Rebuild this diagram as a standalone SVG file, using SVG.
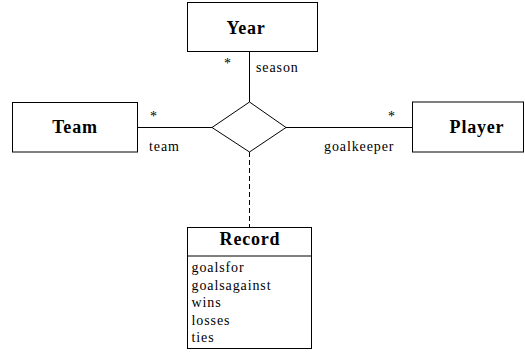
<svg xmlns="http://www.w3.org/2000/svg" width="525" height="356" viewBox="0 0 525 356">
  <style>
    .box { fill: #fff; stroke: #000; stroke-width: 1; }
    .line { stroke: #000; stroke-width: 1; fill: none; }
    .dash { stroke-dasharray: 5 3; }
    text { font-family: "Liberation Serif", "Times New Roman", serif; fill: #000; }
    .title { font-weight: bold; font-size: 18px; letter-spacing: 0.8px; text-anchor: middle; }
    .lbl { font-size: 14px; letter-spacing: 0.9px; }
  </style>
  <rect width="525" height="356" fill="#fff"/>
  <g id="connectors">
    <line class="line" x1="249.5" y1="51.5" x2="249.5" y2="102"/>
    <line class="line" x1="137" y1="127.5" x2="212" y2="127.5"/>
    <line class="line" x1="286" y1="127.5" x2="412" y2="127.5"/>
    <line class="line dash" x1="249.5" y1="152" x2="249.5" y2="227"/>
    <text class="lbl" x="224" y="68">*</text>
    <text class="lbl" x="256" y="72">season</text>
    <text class="lbl" x="150" y="121">*</text>
    <text class="lbl" x="149" y="151">team</text>
    <text class="lbl" x="388" y="121">*</text>
    <text class="lbl" x="324" y="151">goalkeeper</text>
  </g>
  <g id="relation">
    <polygon class="box" points="212,127.5 249.5,102 286,127.5 249.5,152"/>
  </g>
  <g id="year">
    <rect class="box" x="187.5" y="2.5" width="130" height="49"/>
    <text class="title" x="246" y="34">Year</text>
  </g>
  <g id="team">
    <rect class="box" x="12.5" y="102.5" width="125" height="49.5"/>
    <text class="title" x="75" y="133">Team</text>
  </g>
  <g id="player">
    <rect class="box" x="412.5" y="102" width="111" height="50"/>
    <text class="title" x="477" y="133">Player</text>
  </g>
  <g id="record">
    <rect class="box" x="187.5" y="227.5" width="124" height="121"/>
    <line class="line" x1="187.5" y1="256" x2="311.5" y2="256"/>
    <text class="title" x="250" y="245">Record</text>
    <text class="lbl" x="191.5" y="272">goalsfor</text>
    <text class="lbl" x="191.5" y="289.5">goalsagainst</text>
    <text class="lbl" x="191.5" y="307">wins</text>
    <text class="lbl" x="191.5" y="324.5">losses</text>
    <text class="lbl" x="191.5" y="342">ties</text>
  </g>
</svg>
